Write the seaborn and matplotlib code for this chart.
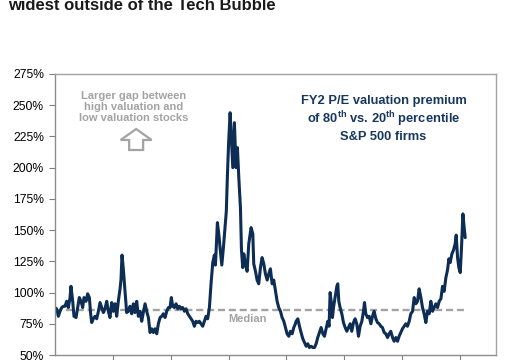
import matplotlib
matplotlib.use("Agg")
import matplotlib.pyplot as plt
from matplotlib.patches import FancyArrow
from matplotlib.ticker import FuncFormatter
import pandas as pd
import seaborn as sns

# valores (ano decimal, premio em %)
anos = [
    1985.0, 1985.14, 1985.29, 1985.43, 1985.58, 1985.72, 1985.86, 1986.01, 1986.15, 1986.30,
    1986.38, 1986.53, 1986.64, 1986.82, 1986.96, 1987.10, 1987.25, 1987.39, 1987.51, 1987.68,
    1987.82, 1987.97, 1988.08, 1988.17, 1988.31, 1988.46, 1988.60, 1988.75, 1988.89, 1989.03,
    1989.18, 1989.32, 1989.47, 1989.61, 1989.75, 1989.90, 1990.04, 1990.19, 1990.33, 1990.47,
    1990.62, 1990.70, 1990.79, 1990.91, 1991.05, 1991.19, 1991.34, 1991.48, 1991.63, 1991.77,
    1991.91, 1992.06, 1992.20, 1992.35, 1992.49, 1992.63, 1992.78, 1992.92, 1993.07, 1993.21,
    1993.35, 1993.50, 1993.64, 1993.79, 1993.93, 1994.08, 1994.22, 1994.36, 1994.51, 1994.65,
    1994.80, 1994.94, 1995.05, 1995.17, 1995.31, 1995.46, 1995.60, 1995.75, 1995.89, 1996.03,
    1996.18, 1996.32, 1996.47, 1996.61, 1996.75, 1996.90, 1997.04, 1997.19, 1997.33, 1997.47,
    1997.62, 1997.76, 1997.91, 1998.05, 1998.19, 1998.34, 1998.48, 1998.63, 1998.77, 1998.86,
    1998.97, 1999.03, 1999.15, 1999.26, 1999.41, 1999.55, 1999.69, 1999.80, 1999.90, 2000.00,
    2000.13, 2000.36, 2000.50, 2000.64, 2000.76, 2000.88, 2001.02, 2001.11, 2001.22, 2001.31,
    2001.45, 2001.60, 2001.74, 2001.94, 2002.09, 2002.17, 2002.32, 2002.46, 2002.60, 2002.75,
    2002.89, 2003.04, 2003.18, 2003.33, 2003.47, 2003.61, 2003.76, 2003.90, 2004.05, 2004.19,
    2004.33, 2004.48, 2004.62, 2004.77, 2004.91, 2005.05, 2005.20, 2005.34, 2005.49, 2005.63,
    2005.77, 2005.83, 2005.98, 2006.12, 2006.26, 2006.41, 2006.55, 2006.70, 2006.84, 2006.98,
    2007.13, 2007.27, 2007.42, 2007.56, 2007.70, 2007.85, 2007.99, 2008.14, 2008.28, 2008.42,
    2008.57, 2008.68, 2008.77, 2008.86, 2008.97, 2009.06, 2009.20, 2009.35, 2009.43, 2009.52,
    2009.63, 2009.78, 2009.92, 2010.07, 2010.21, 2010.35, 2010.50, 2010.64, 2010.79, 2010.93,
    2011.07, 2011.22, 2011.36, 2011.51, 2011.65, 2011.74, 2011.85, 2012.00, 2012.14, 2012.29,
    2012.43, 2012.57, 2012.72, 2012.86, 2013.01, 2013.15, 2013.29, 2013.44, 2013.58, 2013.73,
    2013.87, 2014.01, 2014.16, 2014.30, 2014.45, 2014.59, 2014.73, 2014.88, 2015.02, 2015.17,
    2015.31, 2015.45, 2015.60, 2015.74, 2015.89, 2016.03, 2016.17, 2016.32, 2016.46, 2016.61,
    2016.75, 2016.89, 2017.04, 2017.18, 2017.33, 2017.47, 2017.62, 2017.76, 2017.90, 2018.05,
    2018.19, 2018.34, 2018.48, 2018.62, 2018.77, 2018.91, 2019.03, 2019.14, 2019.29, 2019.43,
    2019.57, 2019.66, 2019.78, 2019.89, 2020.01, 2020.12, 2020.24, 2020.35, 2020.44,
]
premio = [
    88, 87, 81, 85, 88, 89, 89, 93, 88, 96,
    105, 93, 81, 80, 88, 96, 93, 88, 96, 93,
    99, 96, 83, 76, 79, 81, 79, 85, 92, 88,
    84, 87, 93, 85, 80, 92, 85, 91, 81, 93,
    103, 110, 130, 118, 101, 84, 85, 89, 83, 91,
    84, 93, 81, 85, 77, 84, 91, 85, 80, 68,
    71, 68, 71, 67, 75, 80, 81, 83, 80, 85,
    88, 88, 96, 89, 88, 91, 87, 89, 87, 88,
    85, 87, 83, 81, 79, 77, 73, 77, 76, 77,
    75, 73, 77, 81, 79, 88, 107, 124, 130, 122,
    144, 156, 147, 136, 122, 136, 152, 165, 195, 220,
    244, 200, 236, 200, 216, 192, 168, 134, 120, 131,
    123, 117, 139, 152, 147, 123, 117, 110, 107, 120,
    128, 123, 115, 110, 115, 119, 107, 110, 101, 93,
    88, 85, 80, 77, 72, 67, 65, 69, 67, 72,
    75, 77, 79, 73, 68, 63, 60, 57, 59, 56,
    57, 56, 56, 59, 64, 68, 72, 67, 65, 71,
    77, 73, 100, 93, 80, 88, 96, 105, 107, 93,
    88, 83, 76, 72, 69, 72, 75, 69, 76, 79,
    75, 65, 73, 77, 85, 92, 83, 80, 81, 75,
    81, 85, 79, 76, 75, 73, 72, 68, 67, 64,
    67, 69, 64, 61, 64, 61, 65, 68, 71, 73,
    75, 73, 77, 83, 85, 96, 91, 93, 103, 96,
    88, 83, 76, 85, 83, 93, 85, 88, 91, 88,
    93, 95, 105, 101, 112, 118, 127, 124, 131, 134,
    139, 146, 128, 120, 116, 136, 163, 152, 144,
]
mediana = 86
y_ticks = [50, 75, 100, 125, 150, 175, 200, 225, 250, 275]
x_ticks = [1990, 1995, 2000, 2005, 2010, 2015, 2020]

df = pd.DataFrame({"ano": anos, "premio": premio})

sns.set_style("white")
plt.rcParams["font.family"] = ["Liberation Sans", "DejaVu Sans"]
plt.rcParams["mathtext.fontset"] = "custom"
plt.rcParams["mathtext.bf"] = "Liberation Sans:bold"
plt.rcParams["mathtext.rm"] = "Liberation Sans"

cinza = "#a3a3a3"
azul = "#0d2d55"

fig = plt.figure(figsize=(5.23, 3.6), dpi=100)
ax = fig.add_axes([55 / 523, 5 / 360, 441 / 523, 281 / 360])

ax.axhline(mediana, color=cinza, lw=1.7, dashes=(3, 1.6), xmax=(2020.5 - 1985) / (2023.1 - 1985))
sns.lineplot(data=df, x="ano", y="premio", ax=ax, color=azul, lw=2.2)

ax.set_xlim(1985, 2023.1)
ax.set_ylim(50, 275)
ax.set_yticks(y_ticks)
ax.yaxis.set_major_formatter(FuncFormatter(lambda v, p: f"{v:.0f}%"))
ax.set_xticks(x_ticks)
ax.set_xticklabels([""] * len(x_ticks))
ax.tick_params(axis="both", direction="out", length=4, width=0.8, color="#7f7f7f",
               labelsize=8.7, labelcolor="black", pad=4, left=True, bottom=True)
ax.set_xlabel("")
ax.set_ylabel("")
for s in ax.spines.values():
    s.set_color(cinza)
    s.set_linewidth(1.0)
ax.spines["left"].set_color("#8c8c8c")
ax.spines["bottom"].set_color("#8c8c8c")

# textos
ax.text(2001.6, mediana - 7, "Median", color=cinza, fontsize=8, fontweight="bold",
        ha="center", va="center")
ax.text(0.179, 0.883, "Larger gap between\nhigh valuation and\nlow valuation stocks",
        transform=ax.transAxes, color=cinza, fontsize=8, fontweight="bold",
        ha="center", va="center", linespacing=1.15)
ax.add_patch(FancyArrow(0.184, (355 - 150) / 281, 0, 21 / 281, width=14 / 441,
                        head_width=31 / 441, head_length=11 / 281,
                        length_includes_head=True, transform=ax.transAxes,
                        fc="white", ec=cinza, lw=1.6))
ax.text(0.745, 0.84,
        "FY2 P/E valuation premium\nof 80$^{\\mathbf{th}}$ vs. 20$^{\\mathbf{th}}$ percentile\nS&P 500 firms",
        transform=ax.transAxes, color="#17375e", fontsize=9.3, fontweight="bold",
        ha="center", va="center", linespacing=1.2)

fig.text(8 / 523, 1 - 10 / 360, "widest outside of the Tech Bubble",
         family=["Liberation Sans Narrow", "Liberation Sans"], fontsize=12,
         fontweight="bold", color="#1a1a1a", ha="left", va="baseline")

fig.savefig("out.png", dpi=100)
